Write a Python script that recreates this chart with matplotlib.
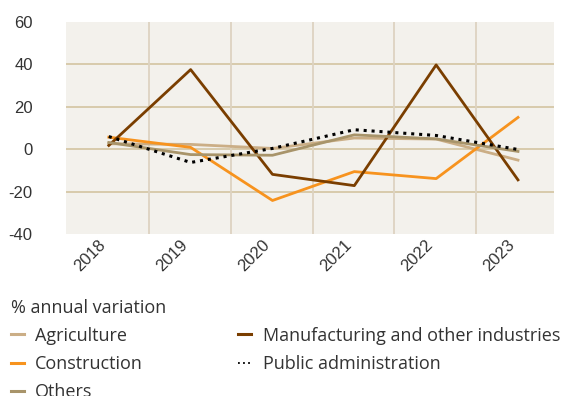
import matplotlib
matplotlib.use("Agg")
import matplotlib.pyplot as plt
import numpy as np
from matplotlib.lines import Line2D

years = ["2018", "2019", "2020", "2021", "2022", "2023"]
agriculture = [2.7, 2.4, 0.5, 5.4, 4.9, -5.0]
construction = [5.8, 1.0, -24.0, -10.4, -13.7, 15.1]
manufacturing = [1.9, 37.6, -11.7, -17.0, 39.8, -14.3]
others = [3.3, -2.4, -2.7, 6.9, 5.0, -0.9]
public_admin = [6.1, -6.1, 0.5, 9.3, 6.6, 0.0]

legend_title = "% annual variation"
yticks = [-40, -20, 0, 20, 40, 60]

plt.rcParams['font.family'] = ['Liberation Sans', 'DejaVu Sans']
text_color = "#333333"

fig = plt.figure(figsize=(5.65, 3.96), dpi=100)
ax = fig.add_axes([66/565, 1-234.5/396, (554-66)/565, (234.5-22)/396])
ax.set_facecolor("#f3f1ec")

x = np.arange(len(years))
styles = {
    "Agriculture": dict(color="#cbae86", lw=2.0, ls="-"),
    "Construction": dict(color="#f7931e", lw=2.0, ls="-"),
    "Manufacturing and other industries": dict(color="#7a3e00", lw=2.0, ls="-"),
    "Others": dict(color="#a8946a", lw=2.0, ls="-"),
    "Public administration": dict(color="#000000", lw=2.2, ls=(0, (1, 1.6))),
}
data = {
    "Agriculture": agriculture,
    "Construction": construction,
    "Manufacturing and other industries": manufacturing,
    "Others": others,
    "Public administration": public_admin,
}
for name in ["Agriculture", "Construction", "Manufacturing and other industries",
             "Others", "Public administration"]:
    st = styles[name]
    ax.plot(x, data[name], color=st["color"], lw=st["lw"], linestyle=st["ls"], zorder=3)

ax.set_xlim(-0.523, 5.44)
ax.set_ylim(-40, 60)
ax.set_yticks(yticks)
ax.set_yticklabels([str(v) for v in yticks])
ax.set_xticks(x)
ax.set_xticklabels(years, rotation=45, ha="right", va="top")
ax.tick_params(axis="both", length=0, labelsize=12, colors=text_color)
ax.tick_params(axis="y", pad=24)
ax.tick_params(axis="x", pad=2)

for v in yticks[1:-1]:
    ax.axhline(v, color="#d6c7a7", lw=1.3, zorder=1)
for xi in x[:-1]:
    ax.axvline(xi + 0.49, color="#ddd3c1", lw=1.3, zorder=1)

for s in ax.spines.values():
    s.set_visible(False)

order = ["Agriculture", "Construction", "Others",
         "Manufacturing and other industries", "Public administration"]
leg_handles = []
for name in order:
    st = styles[name]
    if name == "Public administration":
        leg_handles.append(Line2D([], [], color="black", lw=1.3, linestyle=(0, (1, 1.8))))
    else:
        leg_handles.append(Line2D([], [], color=st["color"], lw=2.2))
leg = fig.legend(leg_handles, order, ncol=2, loc="upper left",
                 bbox_to_anchor=(-2/565, 1-286/396), frameon=False,
                 title=legend_title, alignment="left",
                 prop={"family": "Open Sans", "size": 13},
                 title_fontproperties={"family": "Open Sans", "size": 13},
                 handlelength=0.72, handletextpad=0.65,
                 columnspacing=5.25, labelspacing=0.56, borderpad=0.2)
for t in leg.get_texts():
    t.set_color(text_color)
leg.get_title().set_color(text_color)

fig.savefig("out.png", dpi=100)
